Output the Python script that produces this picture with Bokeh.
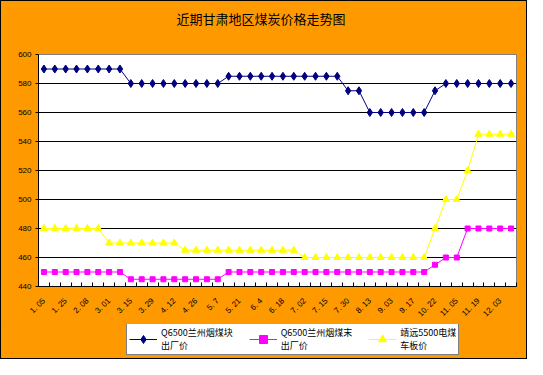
import math
from bokeh.plotting import figure
from bokeh.layouts import column
from bokeh.models import FixedTicker, Legend, LegendItem, Range1d, Title
from bokeh.embed import file_html
from bokeh.resources import INLINE

# ---------------- data ----------------
title_text = "近期甘肃地区煤炭价格走势图"

# 44 sampling points (every other one carries a tick label)
tick_labels = ["1. 05", "1. 25", "2. 08", "3. 01", "3. 15", "3. 29", "4. 12", "4. 26",
               "5. 7", "5. 21", "6. 4", "6. 18", "7. 02", "7. 15", "7. 30", "8. 13",
               "9. 03", "9. 17", "10. 22", "11. 05", "11. 19", "12. 03"]

series_names = ["Q6500兰州烟煤块\n出厂价", "Q6500兰州烟煤末\n出厂价", "靖远5500电煤\n车板价"]

lump_price = [590, 590, 590, 590, 590, 590, 590, 590,
              580, 580, 580, 580, 580, 580, 580, 580, 580,
              585, 585, 585, 585, 585, 585, 585, 585, 585, 585, 585,
              575, 575,
              560, 560, 560, 560, 560, 560,
              575,
              580, 580, 580, 580, 580, 580, 580]

fines_price = [450, 450, 450, 450, 450, 450, 450, 450,
               445, 445, 445, 445, 445, 445, 445, 445, 445,
               450, 450, 450, 450, 450, 450, 450, 450, 450, 450,
               450, 450, 450, 450, 450, 450, 450, 450, 450,
               455,
               460, 460,
               480, 480, 480, 480, 480]

power_price = [480, 480, 480, 480, 480, 480,
               470, 470, 470, 470, 470, 470, 470,
               465, 465, 465, 465, 465, 465, 465, 465, 465, 465, 465,
               460, 460, 460, 460, 460, 460, 460, 460, 460, 460, 460, 460,
               480,
               500, 500,
               520,
               545, 545, 545, 545]

y_ticks = [440, 460, 480, 500, 520, 540, 560, 580, 600]

n = len(lump_price)
xs = list(range(n))
label_pos = xs[::2]

ORANGE = "#FF9900"
colors = ["#000080", "#FF00FF", "#FFFF00"]
markers = ["diamond", "square", "triangle"]
sizes = [8, 5, 7]
all_series = [lump_price, fines_price, power_price]

# ---------------- main chart ----------------
W = 525
p = figure(width=W, height=323, output_backend="svg", toolbar_location=None, title=None,
           x_range=Range1d(-0.5, n - 0.5), y_range=Range1d(y_ticks[0], y_ticks[-1]),
           min_border_left=37, min_border_right=10, min_border_top=53, min_border_bottom=37)
p.border_fill_color = ORANGE
p.background_fill_color = "white"
p.outline_line_color = "#808080"

# spacer (closest to the plot) then the real title above it
p.add_layout(Title(text=" ", text_font_size="8px", standoff=14), "above")
p.add_layout(Title(text=title_text, align="left", offset=138,
                   text_font="Noto Sans CJK SC", text_font_size="13px",
                   text_font_style="normal", text_color="#000000", standoff=4), "above")

xa = p.xaxis[0]
xa.ticker = FixedTicker(ticks=label_pos, minor_ticks=[i - 0.5 for i in range(n + 1)])
xa.major_label_overrides = {i: lbl for i, lbl in zip(label_pos, tick_labels)}
xa.major_label_orientation = math.pi / 4
xa.major_label_text_font = "Liberation Sans"
xa.major_label_text_font_size = "8px"
xa.major_label_text_color = "black"
xa.major_tick_line_color = None
xa.minor_tick_line_color = "black"
xa.minor_tick_in = 4
xa.minor_tick_out = 0
xa.axis_line_color = "black"
xa.major_label_standoff = 7
p.xgrid.grid_line_color = None

ya = p.yaxis[0]
ya.ticker = FixedTicker(ticks=y_ticks)
ya.major_label_text_font = "Liberation Sans"
ya.major_label_text_font_size = "8px"
ya.major_label_text_color = "black"
ya.major_tick_line_color = "black"
ya.major_tick_out = 3
ya.major_tick_in = 0
ya.minor_tick_line_color = None
ya.axis_line_color = "black"
ya.major_label_standoff = 4
p.ygrid.ticker = FixedTicker(ticks=y_ticks[1:-1])
p.ygrid.grid_line_color = "black"
p.ygrid.grid_line_width = 1

for ys, c, m, s in zip(all_series, colors, markers, sizes):
    p.line(xs, ys, line_color=c, line_width=1)
    p.scatter(xs, ys, marker=m, size=s, fill_color=c, line_color=c)

# ---------------- legend strip ----------------
# the strip's ranges lie away from the data, so only the legend shows
q = figure(width=W, height=34, output_backend="svg", toolbar_location=None,
           x_axis_location=None, y_axis_location=None,
           x_range=Range1d(-100, -99), y_range=Range1d(0, 1),
           min_border=0, min_border_left=0, min_border_right=0,
           min_border_top=0, min_border_bottom=0)
q.grid.visible = False
q.outline_line_color = None
q.background_fill_color = ORANGE
q.border_fill_color = ORANGE

items = []
for name, ys, c, m, s in zip(series_names, all_series, colors, markers, sizes):
    ln = q.line(xs, ys, line_color=c, line_width=1)
    sc = q.scatter(xs, ys, marker=m, size=s, fill_color=c, line_color=c)
    items.append(LegendItem(label=name, renderers=[ln, sc]))

legend = Legend(items=items, orientation="horizontal", location=(88, 3))
legend.label_text_font = "Noto Sans CJK SC"
legend.label_text_font_size = "9px"
legend.label_text_color = "black"
legend.label_text_line_height = 1.05
legend.background_fill_color = "white"
legend.background_fill_alpha = 1
legend.border_line_color = "black"
legend.border_line_width = 1
legend.glyph_width = 28
legend.padding = 2
legend.spacing = 16
legend.label_standoff = 4
legend.margin = 0
q.add_layout(legend, "center")

layout = column(p, q, spacing=0,
                styles={"border": "1px solid black", "background-color": ORANGE})

open("out.html", "w").write(file_html(layout, INLINE))
